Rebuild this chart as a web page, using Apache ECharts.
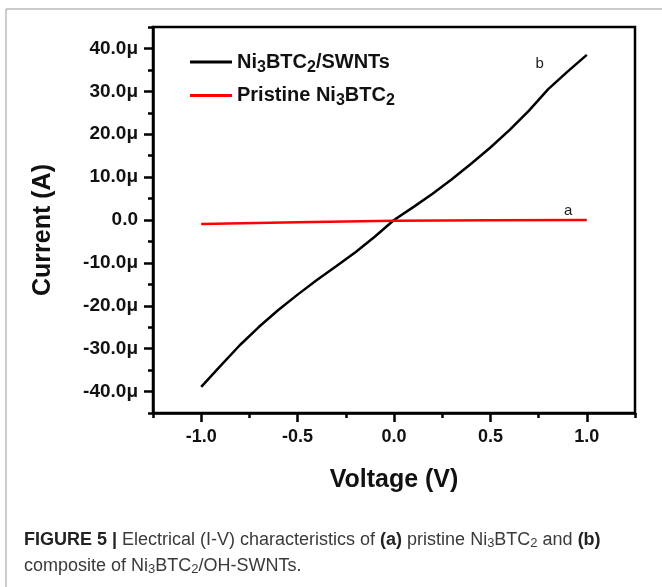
<!DOCTYPE html>
<html>
<head>
<meta charset="utf-8">
<script src="https://cdn.jsdelivr.net/npm/echarts@6/dist/echarts.min.js"></script>
<style>
html,body{margin:0;padding:0;background:#fff;}
#c{width:662px;height:587px;}
</style>
</head>
<body>
<div id="c"></div>
<script>
// ---- data ----
const voltageB = [-1.0,-0.9,-0.8,-0.7,-0.6,-0.5,-0.4,-0.3,-0.2,-0.1,0.0,0.1,0.2,0.3,0.4,0.5,0.6,0.7,0.8,0.9,1.0];
const currentB = [-38.9,-34.0,-29.2,-24.9,-21.0,-17.4,-14.0,-10.8,-7.5,-3.9,0.0,3.0,6.1,9.5,13.1,16.9,21.0,25.5,30.5,34.6,38.5];
const voltageA = [-1.0,-0.5,0.0,0.5,1.0];
const currentA = [-0.93,-0.55,-0.18,-0.06,0.02];
const seriesNames = ['Ni3BTC2/SWNTs','Pristine Ni3BTC2'];
const xTickValues = [-1.0,-0.5,0.0,0.5,1.0];
const yTickValues = [-40,-30,-20,-10,0,10,20,30,40];
const curveLabels = ['b','a'];
const curveLabelPos = [[0.755,36.5],[0.904,2.1]];

const FONT = '"Liberation Sans", Arial, sans-serif';
const legendRich = {
  'Ni3BTC2/SWNTs': '{m|Ni}{s|3}{m|BTC}{s|2}{m|/SWNTs}',
  'Pristine Ni3BTC2': '{m|Pristine Ni}{s|3}{m|BTC}{s|2}'
};

const chart = echarts.init(document.getElementById('c'), null, {renderer:'canvas'});
const axisLineStyle = {color:'#000', width:2.5};
const option = {
  animation:false,
  backgroundColor:'#fff',
  grid:{left:153, right:27, top:27, bottom:174, show:true, borderColor:'#000', borderWidth:2.5, containLabel:false},
  legend:{
    data:seriesNames, padding:0,
    orient:'vertical', left:190, top:52, itemWidth:42, itemHeight:3, itemGap:10, icon:'rect',
    formatter:function(n){return legendRich[n];},
    textStyle:{fontFamily:FONT, fontWeight:'bold', fontSize:20, color:'#111',
      rich:{m:{fontFamily:FONT, fontWeight:'bold', fontSize:20, color:'#111'},
            s:{fontFamily:FONT, fontWeight:'bold', fontSize:16, color:'#111', padding:[11,0,0,0]}}}
  },
  xAxis:[{
    type:'value', min:-1.25, max:1.25, interval:0.25, position:'bottom',
    name:'Voltage (V)', nameLocation:'middle', nameGap:55,
    nameTextStyle:{fontFamily:FONT, fontWeight:'bold', fontSize:25, color:'#111'},
    axisLine:{show:true, onZero:false, lineStyle:axisLineStyle},
    axisTick:{show:true, inside:false, length:9, lineStyle:{color:'#000', width:2.5}, customValues:xTickValues},
    axisLabel:{show:true, margin:15, fontFamily:FONT, fontWeight:'bold', fontSize:18, color:'#111',
      customValues:xTickValues, formatter:function(v){return v.toFixed(1);}},
    splitLine:{show:false}
  },{
    type:'value', min:-1.25, max:1.25, interval:0.25, position:'bottom',
    axisLine:{show:false, onZero:false},
    axisTick:{show:true, length:5, lineStyle:{color:'#000', width:2.5}},
    axisLabel:{show:false}, splitLine:{show:false}
  }],
  yAxis:[{
    type:'value', min:-45, max:45, interval:5, position:'left',
    name:'Current (A)', nameLocation:'middle', nameGap:97, nameRotate:90,
    nameTextStyle:{fontFamily:FONT, fontWeight:'bold', fontSize:25, color:'#111', padding:[0,20,0,0]},
    axisLine:{show:true, onZero:false, lineStyle:axisLineStyle},
    axisTick:{show:true, length:9, lineStyle:{color:'#000', width:2.5}, customValues:yTickValues},
    axisLabel:{show:true, margin:15, fontFamily:FONT, fontWeight:'bold', fontSize:19, color:'#111',
      customValues:yTickValues, formatter:function(v){return v===0?'0.0':v.toFixed(1)+'\u03bc';}},
    splitLine:{show:false}
  },{
    type:'value', min:-45, max:45, interval:5, position:'left',
    axisLine:{show:false, onZero:false},
    axisTick:{show:true, length:5, lineStyle:{color:'#000', width:2.5}},
    axisLabel:{show:false}, splitLine:{show:false}
  }],
  series:[{
    name:seriesNames[0], type:'line', xAxisIndex:0, yAxisIndex:0, symbol:'none',
    data:voltageB.map(function(x,i){return [x,currentB[i]];}),
    lineStyle:{color:'#000', width:2.5}, itemStyle:{color:'#000'},
    markPoint:{symbol:'circle', symbolSize:1, itemStyle:{color:'rgba(0,0,0,0)'},
      label:{show:true, position:'inside', formatter:'{b}', fontFamily:FONT, fontSize:15, color:'#222'},
      data:[{name:curveLabels[0], coord:curveLabelPos[0]}]}
  },{
    name:seriesNames[1], type:'line', xAxisIndex:0, yAxisIndex:0, symbol:'none',
    data:voltageA.map(function(x,i){return [x,currentA[i]];}),
    lineStyle:{color:'#ff0000', width:2.5}, itemStyle:{color:'#ff0000'},
    markPoint:{symbol:'circle', symbolSize:1, itemStyle:{color:'rgba(0,0,0,0)'},
      label:{show:true, position:'inside', formatter:'{b}', fontFamily:FONT, fontSize:15, color:'#222'},
      data:[{name:curveLabels[1], coord:curveLabelPos[1]}]}
  }],
  graphic:[
    {type:'line', shape:{x1:6, y1:9, x2:662, y2:9}, style:{stroke:'#999', lineWidth:1}},
    {type:'line', shape:{x1:6, y1:9, x2:6, y2:587}, style:{stroke:'#999', lineWidth:1}},
    {type:'text', left:24, top:531, style:{
      text:'{b|FIGURE 5 |} Electrical (I-V) characteristics of {b|(a)} pristine Ni{s|3}BTC{s|2} and {b|(b)}',
      font:'18px "Liberation Sans", Arial, sans-serif', fill:'#3a3a3a',
      rich:{b:{fontFamily:FONT, fontWeight:'bold', fontSize:18, fill:'#222'},
            s:{fontFamily:FONT, fontSize:13, fill:'#3a3a3a', padding:[7,0,0,0]}}}},
    {type:'text', left:24, top:557, style:{
      text:'composite of Ni{s|3}BTC{s|2}/OH-SWNTs.',
      font:'18px "Liberation Sans", Arial, sans-serif', fill:'#3a3a3a',
      rich:{s:{fontFamily:FONT, fontSize:13, fill:'#3a3a3a', padding:[7,0,0,0]}}}}
  ]
};
chart.setOption(option);
</script>
</body>
</html>
